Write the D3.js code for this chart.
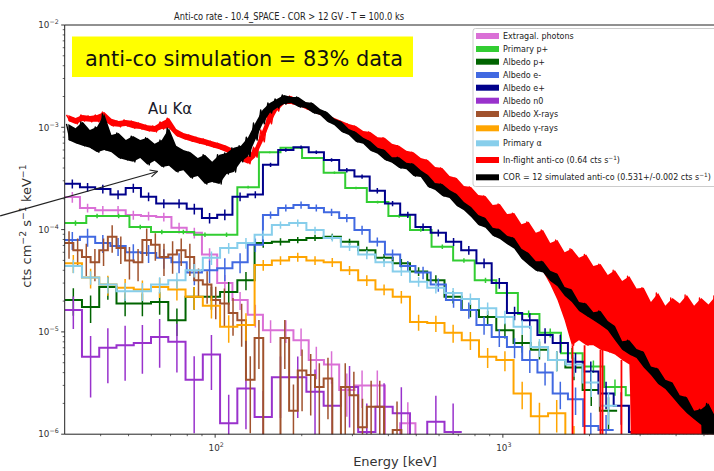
<!DOCTYPE html>
<html>
<head>
<meta charset="utf-8">
<script src="https://cdn.jsdelivr.net/npm/d3@7"></script>
<style>
  body { margin: 0; background: #fff; }
  text { font-family: "DejaVu Sans", sans-serif; }
</style>
</head>
<body>
<svg id="chart" width="714" height="471"></svg>
<script>
// ---------------------------------------------------------------------------
// Spectra (cts cm^-2 s^-1 keV^-1). Simulated components are log-binned
// histograms starting at 30 keV; binWidth is the bin width in decades.
// ---------------------------------------------------------------------------
const extragal = [2.08e-4,1.63e-4,1.55e-4,1.55e-4,1.39e-4,1.36e-4,1.33e-4,1.04e-4,9.3e-5,5.7e-5,
  3.0e-5,2.05e-5,1.47e-5,1.04e-5,1.04e-5,8.3e-6,5.3e-6,4.8e-6,2.7e-6,3.0e-6,3.0e-6,0,1.28e-6,0];
const extragalErr = [0.12,0.1,0.1,0.1,0.1,0.1,0.1,0.12,0.12,0.15,0.2,0.2,0.25,0.25,0.25,0.3,0.35,0.35,0.45,0.4,0.4,0,0.6,0];

const primaryP = [1.16e-4,1.36e-4,1.36e-4,1.06e-4,9.5e-5,9.5e-5,8.9e-5,8.9e-5,2.6e-4,5.7e-4,
  6.3e-4,5.0e-4,3.6e-4,2.55e-4,1.86e-4,1.36e-4,9.9e-5,6.8e-5,5.0e-5,3.2e-5,
  2.4e-5,1.5e-5,9.8e-6,6.2e-6,4.6e-6,2.9e-6,2.4e-6];
const primaryPErr = [0.06,0.05,0.05,0.05,0.05,0.05,0.05,0.05,0.03,0.02,0.02,0.02,0.03,0.03,0.03,0.04,0.04,0.05,0.05,0.06,0.07,0.08,0.1,0.12,0.14,0.18,0.2];

const albedoP = [2.05e-5,1.75e-5,2.75e-5,1.9e-5,1.9e-5,1.96e-5,1.3e-5,2.2e-5,2.2e-5,2.46e-5,
  3.2e-5,7.4e-5,7.6e-5,7.9e-5,8.3e-5,8.5e-5,7.6e-5,6.3e-5,5.3e-5,4.7e-5,
  3.9e-5,3.2e-5,2.2e-5,1.64e-5,1.4e-5,1.04e-5,7.8e-6,6.7e-6,5.3e-6,4.5e-6,2.7e-6,1.7e-6];
const albedoPErr = [0.3,0.3,0.25,0.25,0.25,0.25,0.3,0.25,0.25,0.25,0.2,0.1,0.08,0.07,0.07,0.07,0.07,0.08,0.09,0.1,0.1,0.12,0.14,0.15,0.15,0.17,0.2,0.2,0.22,0.25,0.3,0.35];

const albedoEm = [7.9e-5,8.5e-5,7.4e-5,6.9e-5,6.0e-5,5.9e-5,5.3e-5,4.8e-5,3.8e-5,4.0e-5,
  4.2e-5,4.8e-5,7.1e-5,1.39e-4,1.63e-4,1.74e-4,1.63e-4,1.48e-4,1.30e-4,9.9e-5,
  7.6e-5,5.7e-5,4.4e-5,3.8e-5,2.9e-5,2.05e-5,1.64e-5,1.17e-5,8.9e-6,7.1e-6,
  5.3e-6,4.0e-6,2.5e-6,2.2e-6,1.2e-6,1.1e-6];
const albedoEmErr = [0.2,0.2,0.2,0.2,0.2,0.2,0.22,0.22,0.25,0.25,0.25,0.22,0.15,0.08,0.08,0.08,0.08,0.08,0.09,0.1,0.1,0.12,0.12,0.14,0.15,0.16,0.18,0.2,0.2,0.22,0.25,0.25,0.3,0.3,0.35,0.4];

const albedoEp = [2.8e-4,2.6e-4,2.5e-4,2.2e-4,2.55e-4,2.1e-4,1.8e-4,1.8e-4,1.6e-4,1.3e-4,
  1.4e-4,2.1e-4,2.2e-4,4.3e-4,6.0e-4,6.4e-4,5.7e-4,4.8e-4,3.8e-4,3.3e-4,
  2.4e-4,1.8e-4,1.4e-4,1.06e-4,9.3e-5,7.6e-5,6.3e-5,4.7e-5,3.0e-5,1.53e-5,
  1.3e-5,9.3e-6,7.8e-6,5.1e-6,4.1e-6,2.5e-6,1.9e-6,1.05e-6];
const albedoEpErr = [0.1,0.1,0.1,0.1,0.1,0.1,0.1,0.1,0.12,0.12,0.12,0.1,0.08,0.05,0.04,0.04,0.04,0.04,0.05,0.05,0.06,0.06,0.07,0.08,0.08,0.09,0.1,0.11,0.12,0.15,0.17,0.17,0.2,0.22,0.25,0.3,0.35,0.4];

const albedoN = [1.64e-5,5.7e-6,7.0e-6,7.4e-6,7.8e-6,8.9e-6,8.0e-6,3.4e-6,6.0e-6,1.28e-6,
  2.8e-6,1.47e-6,3.6e-6,3.6e-6,2.6e-6,1.9e-6,2.9e-6,1.05e-6,1.85e-6,1.6e-6,0,1.32e-6,1.05e-6];
const albedoNErr = [0.35,0.6,0.55,0.55,0.5,0.5,0.5,0.7,0.55,0.9,0.6,0.8,0.6,0.6,0.65,0.7,0.6,0.9,0.7,0.8,0,0.8,0.9];

const albedoX = [7.4e-5,6.3e-5,5.4e-5,4.8e-5,6.3e-5,8.5e-5,6.6e-5,5.0e-5,4.8e-5,7.9e-5,
  7.1e-5,5.4e-5,5.7e-5,6.3e-5,5.4e-5,3.2e-5,2.9e-5,2.05e-5,1.9e-5,1.53e-5,
  1.3e-5,3.4e-6,8.7e-6,0,0,8.7e-6,1.7e-6,4.2e-6,3.8e-6,2.9e-6,
  3.5e-6,0,2.9e-6,2.4e-6,1.17e-6,1.85e-6,1.85e-6,0,1.1e-6,0];
const albedoXErr = [0.3,0.3,0.35,0.35,0.3,0.3,0.3,0.35,0.35,0.3,0.3,0.35,0.35,0.3,0.35,0.3,0.35,0.35,0.4,0.4,0.45,0.7,0.5,0,0,0.5,0.8,0.6,0.6,0.7,0.6,0,0.7,0.7,0.9,0.8,0.8,0,0.9,0];

const albedoG = [4.7e-5,3.4e-5,2.9e-5,2.7e-5,2.6e-5,2.75e-5,2.6e-5,2.2e-5,1.8e-5,1.12e-5,
  1.17e-5,4.5e-5,5.0e-5,5.4e-5,5.0e-5,4.8e-5,4.0e-5,3.2e-5,2.6e-5,2.2e-5,
  1.25e-5,1.22e-5,9.8e-6,8.3e-6,5.7e-6,5.3e-6,2.5e-6,1.5e-6,1.6e-6,8.0e-7];
const albedoGErr = [0.2,0.22,0.22,0.22,0.22,0.22,0.22,0.25,0.25,0.3,0.3,0.12,0.1,0.1,0.1,0.1,0.1,0.12,0.12,0.14,0.18,0.18,0.2,0.2,0.22,0.22,0.3,0.35,0.35,0.5];

const primaryA = [4.4e-5,3.4e-5,2.9e-5,2.5e-5,2.5e-5,2.9e-5,3.2e-5,4.0e-5,5.3e-5,6.6e-5,
  7.4e-5,8.9e-5,1.11e-4,1.16e-4,9.9e-5,8.3e-5,6.8e-5,5.7e-5,4.8e-5,3.9e-5,
  3.1e-5,2.7e-5,2.4e-5,2.1e-5,1.7e-5,1.4e-5,1.12e-5,7.1e-6,5.3e-6,4.8e-6,3.2e-6,1.9e-6];
const primaryAErr = [0.15,0.15,0.18,0.2,0.2,0.18,0.18,0.15,0.15,0.12,0.12,0.1,0.08,0.08,0.08,0.08,0.09,0.1,0.1,0.1,0.11,0.12,0.12,0.13,0.14,0.15,0.16,0.2,0.22,0.24,0.28,0.35];

// Measured and simulated anti-coincidence rates, summarised per 0.025-decade
// bin as the upper and lower extent of the fine-binned spectrum (0 = empty bins).
const rateBinWidth = 0.025;
const inflightHi = [1.32e-3,1.23e-3,1.32e-3,1.29e-3,1.32e-3,1.41e-3,1.21e-3,1.15e-3,1.18e-3,1.15e-3,
  1.10e-3,1.05e-3,1.03e-3,1.13e-3,1.23e-3,9.6e-4,8.8e-4,8.4e-4,8.0e-4,7.7e-4,
  7.3e-4,7.0e-4,6.6e-4,6.1e-4,5.6e-4,5.2e-4,6.4e-4,9.4e-4,1.41e-3,1.73e-3,
  1.98e-3,2.02e-3,1.85e-3,1.69e-3,1.54e-3,1.44e-3,1.32e-3,1.23e-3,1.15e-3,1.08e-3,
  1.03e-3,9.2e-4,9.0e-4,8.0e-4,7.9e-4,6.9e-4,6.6e-4,5.9e-4,5.7e-4,5.0e-4,
  4.8e-4,4.1e-4,4.0e-4,3.34e-4,3.19e-4,2.67e-4,2.61e-4,2.18e-4,2.13e-4,1.74e-4,
  1.78e-4,1.42e-4,1.45e-4,1.13e-4,1.19e-4,9.3e-5,9.9e-5,7.4e-5,7.9e-5,6.0e-5,
  6.5e-5,5.3e-5,5.7e-5,4.4e-5,4.6e-5,3.6e-5,4.0e-5,3.15e-5,3.5e-5,2.65e-5,
  2.7e-5,1.96e-5,2.4e-5,1.8e-5,2.15e-5,1.9e-5,2.3e-5,1.8e-5,2.15e-5,1.85e-5,2.25e-5];
const inflightLo = [1.15e-3,1.08e-3,1.15e-3,1.13e-3,1.13e-3,1.15e-3,1.03e-3,1.01e-3,1.03e-3,9.8e-4,
  9.6e-4,9.2e-4,9.0e-4,9.6e-4,9.8e-4,8.2e-4,7.7e-4,7.3e-4,7.0e-4,6.7e-4,
  6.4e-4,6.1e-4,5.7e-4,5.2e-4,4.7e-4,4.4e-4,5.1e-4,7.2e-4,1.08e-3,1.44e-3,
  1.69e-3,1.69e-3,1.62e-3,1.51e-3,1.41e-3,1.32e-3,1.23e-3,1.10e-3,9.8e-4,9.0e-4,
  8.0e-4,7.3e-4,6.7e-4,6.0e-4,5.4e-4,5.0e-4,4.6e-4,4.3e-4,4.0e-4,3.66e-4,
  3.19e-4,2.85e-4,2.55e-4,2.23e-4,1.95e-4,1.70e-4,1.42e-4,1.24e-4,1.08e-4,9.5e-5,
  8.5e-5,7.9e-5,6.9e-5,5.8e-5,4.8e-5,4.4e-5,3.9e-5,2.9e-5,2.05e-5,1.3e-5,
  7.4e-6,8.3e-6,7.4e-6,7.4e-6,6.7e-6,6.4e-6,6.0e-6,5.3e-6,4.8e-6,0,
  0,0,0,0,0,0,0,0,0,0,0];
// isolated empty in-flight bins (keV)
const inflightEmpty = [1746, 1923, 2184, 2220, 2583, 2799];

const simHi = [1.08e-3,9.8e-4,1.13e-3,9.4e-4,1.01e-3,1.35e-3,8.4e-4,8.8e-4,7.5e-4,8.2e-4,
  7.5e-4,7.9e-4,6.9e-4,7.5e-4,9.8e-4,6.6e-4,6.0e-4,5.7e-4,5.0e-4,5.4e-4,
  4.6e-4,5.4e-4,5.6e-4,6.3e-4,6.6e-4,8.0e-4,1.10e-3,1.48e-3,1.73e-3,1.89e-3,
  2.07e-3,1.98e-3,1.98e-3,1.77e-3,1.73e-3,1.51e-3,1.41e-3,1.21e-3,1.13e-3,9.6e-4,
  9.0e-4,7.9e-4,7.3e-4,6.3e-4,6.0e-4,5.1e-4,5.1e-4,4.5e-4,4.4e-4,3.8e-4,
  3.42e-4,2.85e-4,2.79e-4,2.44e-4,2.23e-4,1.86e-4,1.66e-4,1.39e-4,1.30e-4,1.04e-4,
  1.01e-4,8.7e-5,8.3e-5,6.5e-5,5.9e-5,4.9e-5,4.9e-5,3.95e-5,3.7e-5,2.75e-5,
  2.6e-5,1.96e-5,1.9e-5,1.56e-5,1.6e-5,1.28e-5,1.14e-5,8.1e-6,8.3e-6,6.8e-6,
  6.4e-6,4.6e-6,4.4e-6,3.4e-6,3.2e-6,2.4e-6,2.3e-6,1.7e-6,1.75e-6,2.0e-6,1.45e-6];
const simLo = [7.5e-4,7.0e-4,6.6e-4,6.3e-4,5.7e-4,6.0e-4,5.7e-4,5.0e-4,4.8e-4,4.6e-4,
  5.0e-4,4.3e-4,4.7e-4,4.1e-4,4.2e-4,3.66e-4,3.8e-4,3.19e-4,3.34e-4,2.79e-4,
  2.92e-4,2.79e-4,3.5e-4,3.66e-4,4.6e-4,5.2e-4,7.5e-4,1.08e-3,1.38e-3,1.54e-3,
  1.69e-3,1.73e-3,1.58e-3,1.54e-3,1.38e-3,1.32e-3,1.13e-3,1.05e-3,9.0e-4,8.4e-4,
  7.2e-4,6.9e-4,5.9e-4,5.5e-4,4.8e-4,4.5e-4,4.0e-4,3.9e-4,3.34e-4,3.27e-4,
  2.61e-4,2.44e-4,2.13e-4,2.04e-4,1.70e-4,1.55e-4,1.33e-4,1.11e-4,1.04e-4,8.7e-5,
  8.1e-5,7.2e-5,6.5e-5,5.2e-5,4.5e-5,3.95e-5,3.8e-5,3.15e-5,2.8e-5,2.25e-5,
  1.96e-5,1.6e-5,1.44e-5,1.3e-5,1.17e-5,1.04e-5,8.3e-6,6.7e-6,6.0e-6,5.55e-6,
  4.5e-6,3.8e-6,3.1e-6,2.77e-6,2.3e-6,1.9e-6,1.6e-6,1.4e-6,1.23e-6,0,1.0e-6];

const yTicks = [1e-6, 1e-5, 1e-4, 1e-3, 1e-2];
const xTicks = [1e2, 1e3];

// ---------------------------------------------------------------------------
const components = [
  { label: "Extragal. photons", color: "#da70d6", binWidth: 0.053, values: extragal, err: extragalErr },
  { label: "Primary p+",        color: "#32cd32", binWidth: 0.075, values: primaryP, err: primaryPErr },
  { label: "Albedo p+",         color: "#006400", binWidth: 0.060, values: albedoP,  err: albedoPErr },
  { label: "Albedo e-",         color: "#4169e1", binWidth: 0.053, values: albedoEm, err: albedoEmErr },
  { label: "Albedo e+",         color: "#00008b", binWidth: 0.053, values: albedoEp, err: albedoEpErr },
  { label: "Albedo n0",         color: "#9932cc", binWidth: 0.060, values: albedoN,  err: albedoNErr },
  { label: "Albedo X-rays",     color: "#a0522d", binWidth: 0.030, values: albedoX,  err: albedoXErr },
  { label: "Albedo \u03b3-rays", color: "#ffa500", binWidth: 0.060, values: albedoG,  err: albedoGErr },
  { label: "Primary \u03b1",    color: "#87ceeb", binWidth: 0.060, values: primaryA, err: primaryAErr }
];
const rates = [
  { label: "In-flight anti-co (0.64 cts s^{\u22121})", color: "red", hi: inflightHi, lo: inflightLo },
  { label: "COR = 12 simulated anti-co (0.531+/-0.002 cts s^{\u22121})", color: "black", hi: simHi, lo: simLo }
];

const E0 = 30;
const svg = d3.select("#chart");
const plot = { left: 64.7, right: 725.3, top: 25, bottom: 434.2 };

const x = d3.scaleLog().domain([E0, 5930]).range([plot.left, plot.right]);
const y = d3.scaleLog().domain([1e-6, 1e-2]).range([plot.bottom, plot.top]);
const FLOOR = 1e-8;                       // empty bins fall through the bottom
const yv = v => y(v > 0 ? v : FLOOR);
const edgeE = (w, i) => E0 * Math.pow(10, w * i);

svg.append("defs").append("clipPath").attr("id", "plotClip")
  .append("rect").attr("x", plot.left).attr("y", plot.top)
  .attr("width", plot.right - plot.left).attr("height", plot.bottom - plot.top);

const gData = svg.append("g").attr("clip-path", "url(#plotClip)");

// ---- step histograms with error bars ----
components.forEach(c => {
  const pts = [];
  c.values.forEach((v, i) => {
    pts.push([x(edgeE(c.binWidth, i)), yv(v)], [x(edgeE(c.binWidth, i + 1)), yv(v)]);
  });
  gData.append("path").attr("d", d3.line()(pts))
    .attr("fill", "none").attr("stroke", c.color).attr("stroke-width", 2)
    .attr("stroke-linejoin", "miter");
  const g = gData.append("g").attr("stroke", c.color).attr("stroke-width", 1.5);
  c.values.forEach((v, i) => {
    if (!(v > 0) || !c.err[i]) return;
    const xc = x(edgeE(c.binWidth, i + 0.5));
    const lo = v * (1 - c.err[i]);
    g.append("line").attr("x1", xc).attr("x2", xc)
      .attr("y1", yv(v * (1 + c.err[i]))).attr("y2", yv(lo > 0 ? lo : 0));
  });
});

// ---- measured and simulated rates: filled min/max band + jagged trace ----
rates.forEach((r, k) => {
  const n = r.hi.length;
  const ec = i => E0 * Math.pow(10, rateBinWidth * (i + 0.5));
  const area = d3.area()
    .x((d, i) => x(ec(i)))
    .y0((d, i) => yv(r.lo[i]))
    .y1((d, i) => yv(r.hi[i]));
  gData.append("path").datum(r.hi).attr("d", area).attr("fill", r.color);
  const zig = [];
  for (let i = 0; i < n; i++) {
    zig.push([x(E0 * Math.pow(10, rateBinWidth * (i + 0.25))), yv(r.hi[i])]);
    zig.push([x(E0 * Math.pow(10, rateBinWidth * (i + 0.75))), yv(r.lo[i])]);
  }
  gData.append("path").attr("d", d3.line()(zig)).attr("fill", "none")
    .attr("stroke", r.color).attr("stroke-width", 1.4)
    .attr("stroke-linejoin", "round");
  if (k === 0) {
    inflightEmpty.forEach(e => {
      const i = Math.floor(Math.log10(e / E0) / rateBinWidth);
      gData.append("line").attr("x1", x(e)).attr("x2", x(e))
        .attr("y1", yv(r.lo[i])).attr("y2", yv(0))
        .attr("stroke", r.color).attr("stroke-width", 1.8);
    });
  }
});

// ---- axes ----
const axisColor = "#222";
const gAx = svg.append("g");
gAx.append("line").attr("x1", plot.left).attr("x2", plot.left).attr("y1", plot.top).attr("y2", plot.bottom)
  .attr("stroke", axisColor).attr("stroke-width", 1);
gAx.append("line").attr("x1", plot.left).attr("x2", plot.right).attr("y1", plot.bottom).attr("y2", plot.bottom)
  .attr("stroke", axisColor).attr("stroke-width", 1);
gAx.append("line").attr("x1", plot.left).attr("x2", plot.right).attr("y1", plot.top).attr("y2", plot.top)
  .attr("stroke", axisColor).attr("stroke-width", 1);

function sciLabel(sel, exp) {
  sel.append("tspan").text("10");
  sel.append("tspan").attr("dy", -4).attr("font-size", 6.3)
    .text(exp < 0 ? "\u2212" + (-exp) : String(exp));
}

// y ticks
const yMinor = [];
for (let p = -6; p < -2; p++) for (let m = 2; m <= 9; m++) yMinor.push(m * Math.pow(10, p));
yMinor.forEach(v => gAx.append("line").attr("x1", plot.left - 2).attr("x2", plot.left)
  .attr("y1", y(v)).attr("y2", y(v)).attr("stroke", axisColor).attr("stroke-width", 0.7));
yTicks.forEach(v => {
  gAx.append("line").attr("x1", plot.left - 3.5).attr("x2", plot.left)
    .attr("y1", y(v)).attr("y2", y(v)).attr("stroke", axisColor).attr("stroke-width", 0.9);
  const t = gAx.append("text").attr("x", plot.left - 6).attr("y", y(v) + 3.2)
    .attr("text-anchor", "end").attr("font-size", 8.8).attr("fill", "#333");
  sciLabel(t, Math.round(Math.log10(v)));
});

// x ticks
const xMinor = [];
for (let p = 1; p <= 3; p++) for (let m = 2; m <= 9; m++) {
  const v = m * Math.pow(10, p);
  if (v > E0 && v < 5930) xMinor.push(v);
}
xMinor.forEach(v => gAx.append("line").attr("x1", x(v)).attr("x2", x(v))
  .attr("y1", plot.bottom).attr("y2", plot.bottom + 2).attr("stroke", axisColor).attr("stroke-width", 0.7));
xTicks.forEach(v => {
  gAx.append("line").attr("x1", x(v)).attr("x2", x(v))
    .attr("y1", plot.bottom).attr("y2", plot.bottom + 3.5).attr("stroke", axisColor).attr("stroke-width", 0.9);
  const t = gAx.append("text").attr("x", x(v) + 1).attr("y", plot.bottom + 17)
    .attr("text-anchor", "middle").attr("font-size", 8.8).attr("fill", "#333");
  sciLabel(t, Math.round(Math.log10(v)));
});

// rich text: "^{...}" renders as superscript
function rich(sel, str, size) {
  const parts = str.split(/(\^\{[^}]*\})/).filter(p => p);
  let raised = false;
  parts.forEach(p => {
    if (p.startsWith("^{")) {
      sel.append("tspan").attr("dy", -size * 0.42).attr("font-size", size * 0.72).text(p.slice(2, -1));
      raised = true;
    } else {
      const t = sel.append("tspan").text(p);
      if (raised) { t.attr("dy", size * 0.42); raised = false; }
    }
  });
}

// axis titles
svg.append("text").attr("x", 395).attr("y", 466).attr("text-anchor", "middle")
  .attr("font-size", 13).attr("fill", "#333").text("Energy [keV]");
const yl = svg.append("text").attr("transform", "translate(31,226) rotate(-90)")
  .attr("text-anchor", "middle").attr("font-size", 13).attr("fill", "#333");
rich(yl, "cts cm^{\u22122} s^{\u22121} keV^{\u22121}", 13);

// title
svg.append("text").attr("x", 289).attr("y", 20).attr("text-anchor", "middle")
  .attr("font-size", 10).attr("fill", "#222")
  .attr("textLength", 230).attr("lengthAdjust", "spacingAndGlyphs")
  .text("Anti-co rate - 10.4_SPACE - COR > 12 GV - T = 100.0 ks");

// ---- annotations ----
const box = svg.append("g");
box.append("rect").attr("x", 72).attr("y", 36.5).attr("width", 341).attr("height", 40.5).attr("fill", "#ffff00");
box.append("text").attr("x", 85).attr("y", 66).attr("font-family", "Lato, 'Open Sans', sans-serif")
  .attr("font-size", 22).attr("fill", "#111")
  .attr("textLength", 318).attr("lengthAdjust", "spacingAndGlyphs")
  .text("anti-co simulation = 83% data");

svg.append("text").attr("x", x(58.4)).attr("y", y(1.35e-3))
  .attr("font-family", "Lato, 'Open Sans', sans-serif").attr("font-size", 15).attr("fill", "#1a1a2a")
  .text("Au K\u03b1");

svg.append("defs").append("marker").attr("id", "arrowHead")
  .attr("viewBox", "0 0 10 10").attr("refX", 9).attr("refY", 5)
  .attr("markerWidth", 9).attr("markerHeight", 9).attr("orient", "auto")
  .attr("markerUnits", "userSpaceOnUse")
  .append("path").attr("d", "M1,1 L9,5 L1,9").attr("fill", "none")
  .attr("stroke", "#222").attr("stroke-width", 1.3);
svg.append("line").attr("x1", x(17.9)).attr("y1", y(1.36e-4))
  .attr("x2", x(63)).attr("y2", y(3.7e-4))
  .attr("stroke", "#222").attr("stroke-width", 1.2).attr("marker-end", "url(#arrowHead)");

// ---- legend ----
const legend = svg.append("g");
legend.append("rect").attr("x", 473).attr("y", 28.5).attr("width", 270).attr("height", 158)
  .attr("rx", 2.5).attr("fill", "white").attr("fill-opacity", 0.85)
  .attr("stroke", "#cccccc").attr("stroke-width", 1);
const rowY = [36, 49, 61.7, 75, 87.7, 100.7, 114, 128.3, 143.3, 160, 177.3];
components.concat(rates).forEach((s, i) => {
  legend.append("rect").attr("x", 476).attr("y", rowY[i] - 3).attr("width", 23).attr("height", 6)
    .attr("fill", s.color);
  const t = legend.append("text").attr("x", 503).attr("y", rowY[i] + 3)
    .attr("font-size", 8).attr("fill", "#222");
  rich(t, s.label, 8);
});
</script>
</body>
</html>
